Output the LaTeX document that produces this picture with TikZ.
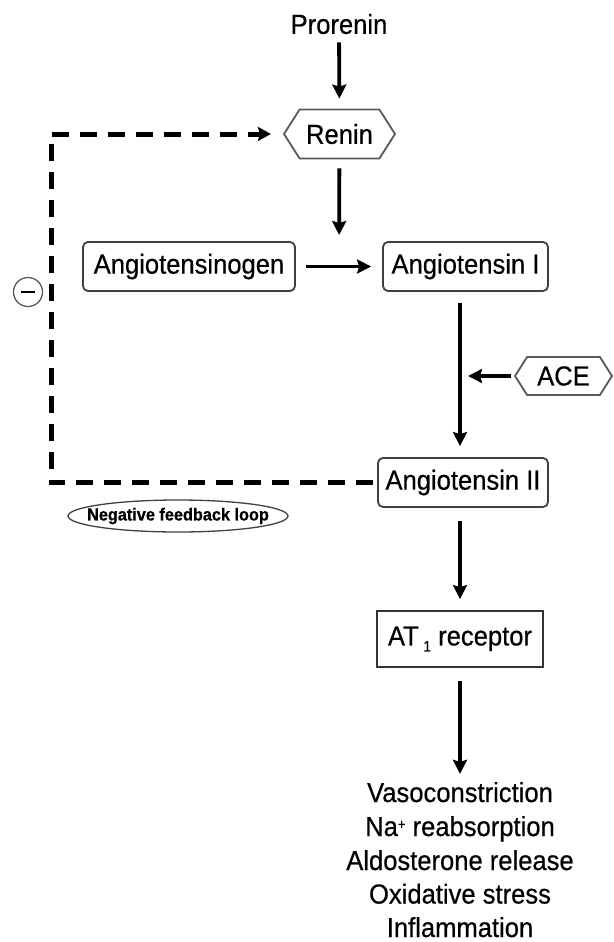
\documentclass[tikz,border=0pt]{standalone}
\usepackage{fontspec}
\setmainfont{Liberation Sans}[FakeStretch=0.93,FakeBold=0.5]
\usetikzlibrary{arrows.meta,shapes.symbols,calc}
\begin{document}
\begin{tikzpicture}[x=1pt,y=-1pt,
  every node/.style={font=\fontsize{27.5}{32}\selectfont, text=black},
  rbox/.style={draw=black!75, line width=1.8pt, rounded corners=5pt, inner sep=0pt, minimum height=49pt},
  sbox/.style={draw=black!80, line width=1.8pt, inner sep=0pt},
  hexbox/.style={draw=black!65, line width=1.8pt, signal, signal to=west and east, signal pointer angle=115, inner sep=0pt},
  txt/.style={inner sep=0pt},
  arr/.style={line width=3.8pt, -{Stealth[length=14pt,width=14pt,inset=2pt]}},
  fbline/.style={line width=5pt, dash pattern=on 17pt off 11pt, -{Stealth[length=13pt,width=14pt,inset=2pt]}},
  fbtext/.style={inner sep=0pt, font=\fontsize{17.5}{20}\selectfont\bfseries}
]
\useasboundingbox (0,0) rectangle (613,942);
\fill[white] (0,0) rectangle (613,942);

% nodes
\node[txt] (pro) at (339,24) {Prorenin};
\node[hexbox, minimum width=111pt, minimum height=49pt] (renin) at (339.5,134) {Renin};
\node[rbox, minimum width=212pt] (agen) at (189,266.5) {Angiotensinogen};
\node[rbox, minimum width=165pt] (ang1) at (465.5,266.5) {Angiotensin I};
\node[hexbox, minimum width=97pt, minimum height=38pt] (ace) at (563.5,376) {ACE};
\node[rbox, minimum width=170pt] (ang2) at (463,482.5) {Angiotensin II};
\node[sbox, minimum width=166pt, minimum height=56pt] (at1) at (460,639) {AT\,\raisebox{-6pt}{\fontsize{15}{15}\selectfont 1} receptor};

\node[txt, anchor=base] (e1) at (460,802) {Vasoconstriction};
\node[txt, anchor=base] (e2) at (460,836) {Na\raisebox{7pt}{\fontsize{14}{14}\selectfont +} reabsorption};
\node[txt, anchor=base] (e3) at (460,870) {Aldosterone release};
\node[txt, anchor=base] (e4) at (460,903.5) {Oxidative stress};
\node[txt, anchor=base] (e5) at (460,937) {Inflammation};

\node[fbtext] (fbl) at (178,516) {Negative feedback loop};
\draw[black!75, line width=1.3pt] (fbl.center) ellipse [x radius=110, y radius=16];

\node[circle, draw=black!65, line width=1.3pt, minimum size=29pt, inner sep=0pt] (minus) at (28,292) {};
\draw[black, line width=1.5pt] ($(minus.center)+(-7,0)$) -- ($(minus.center)+(7,0)$);

\coordinate (conv) at (339,267);
\coordinate (acem) at (460,376);
\coordinate (corner) at (51,482.5);

% connectors
\draw[arr, shorten <=8pt, shorten >=10pt] (pro) -- (renin);
\draw[arr, shorten <=9pt, shorten >=32pt] (renin) -- (conv);
\draw[arr, shorten <=10pt, shorten >=11pt] (agen) -- (ang1);
\draw[arr, shorten <=11pt, shorten >=11pt] (ang1.south -| at1) -- (ang2.north -| at1);
\draw[arr, shorten <=3pt, shorten >=8pt] (ace.west) -- (acem);
\draw[arr, shorten <=13pt, shorten >=11pt] (ang2.south -| at1) -- (at1);
\draw[arr, shorten <=13pt, shorten >=8pt] (at1) -- (e1.north);
\draw[fbline, shorten <=4pt, shorten >=12pt] (ang2.west) -- (corner) |- (renin.west);
\end{tikzpicture}
\end{document}
